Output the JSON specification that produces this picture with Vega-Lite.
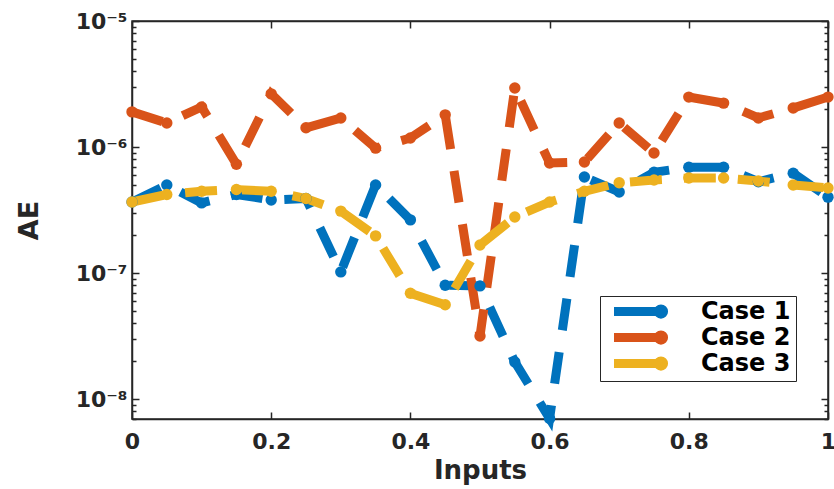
{
  "$schema": "https://vega.github.io/schema/vega-lite/v6.json",
  "width": 696,
  "height": 398,
  "autosize": {"type": "none"},
  "padding": {"left": 132, "top": 21, "right": 6, "bottom": 70},
  "background": "white",
  "config": {
    "view": {"stroke": "#262626", "strokeWidth": 1.5},
    "axis": {
      "grid": false,
      "domainColor": "#262626",
      "domainWidth": 1.5,
      "tickColor": "#262626",
      "tickWidth": 1.5,
      "labelFont": "DejaVu Sans",
      "labelFontWeight": "bold",
      "labelFontSize": 22,
      "labelColor": "#262626",
      "titleFont": "DejaVu Sans",
      "titleFontWeight": "bold",
      "titleColor": "#262626",
      "labelOverlap": false,
      "labelBound": false,
      "labelFlush": false
    }
  },
  "data": {
    "values": [
      {"x": 0, "AE": 3.66e-7, "series": "Case 1"},
      {"x": 0.05, "AE": 4.99e-7, "series": "Case 1"},
      {"x": 0.1, "AE": 3.6e-7, "series": "Case 1"},
      {"x": 0.15, "AE": 4.2e-7, "series": "Case 1"},
      {"x": 0.2, "AE": 3.8e-7, "series": "Case 1"},
      {"x": 0.25, "AE": 3.9e-7, "series": "Case 1"},
      {"x": 0.3, "AE": 1.02e-7, "series": "Case 1"},
      {"x": 0.35, "AE": 5.0e-7, "series": "Case 1"},
      {"x": 0.4, "AE": 2.64e-7, "series": "Case 1"},
      {"x": 0.45, "AE": 8.0e-8, "series": "Case 1"},
      {"x": 0.5, "AE": 7.9e-8, "series": "Case 1"},
      {"x": 0.55, "AE": 1.97e-8, "series": "Case 1"},
      {"x": 0.6, "AE": 7.0e-9, "series": "Case 1"},
      {"x": 0.65, "AE": 5.78e-7, "series": "Case 1"},
      {"x": 0.7, "AE": 4.4e-7, "series": "Case 1"},
      {"x": 0.75, "AE": 6.3e-7, "series": "Case 1"},
      {"x": 0.8, "AE": 6.9e-7, "series": "Case 1"},
      {"x": 0.85, "AE": 6.9e-7, "series": "Case 1"},
      {"x": 0.9, "AE": 5.3e-7, "series": "Case 1"},
      {"x": 0.95, "AE": 6.2e-7, "series": "Case 1"},
      {"x": 1, "AE": 4.0e-7, "series": "Case 1"},
      {"x": 0, "AE": 1.9e-6, "series": "Case 2"},
      {"x": 0.05, "AE": 1.55e-6, "series": "Case 2"},
      {"x": 0.1, "AE": 2.08e-6, "series": "Case 2"},
      {"x": 0.15, "AE": 7.3e-7, "series": "Case 2"},
      {"x": 0.2, "AE": 2.64e-6, "series": "Case 2"},
      {"x": 0.25, "AE": 1.42e-6, "series": "Case 2"},
      {"x": 0.3, "AE": 1.7e-6, "series": "Case 2"},
      {"x": 0.35, "AE": 9.8e-7, "series": "Case 2"},
      {"x": 0.4, "AE": 1.18e-6, "series": "Case 2"},
      {"x": 0.45, "AE": 1.8e-6, "series": "Case 2"},
      {"x": 0.5, "AE": 3.16e-8, "series": "Case 2"},
      {"x": 0.55, "AE": 2.94e-6, "series": "Case 2"},
      {"x": 0.6, "AE": 7.46e-7, "series": "Case 2"},
      {"x": 0.65, "AE": 7.6e-7, "series": "Case 2"},
      {"x": 0.7, "AE": 1.55e-6, "series": "Case 2"},
      {"x": 0.75, "AE": 8.95e-7, "series": "Case 2"},
      {"x": 0.8, "AE": 2.49e-6, "series": "Case 2"},
      {"x": 0.85, "AE": 2.23e-6, "series": "Case 2"},
      {"x": 0.9, "AE": 1.7e-6, "series": "Case 2"},
      {"x": 0.95, "AE": 2.04e-6, "series": "Case 2"},
      {"x": 1, "AE": 2.49e-6, "series": "Case 2"},
      {"x": 0, "AE": 3.66e-7, "series": "Case 3"},
      {"x": 0.05, "AE": 4.2e-7, "series": "Case 3"},
      {"x": 0.1, "AE": 4.45e-7, "series": "Case 3"},
      {"x": 0.15, "AE": 4.6e-7, "series": "Case 3"},
      {"x": 0.2, "AE": 4.45e-7, "series": "Case 3"},
      {"x": 0.25, "AE": 3.9e-7, "series": "Case 3"},
      {"x": 0.3, "AE": 3.1e-7, "series": "Case 3"},
      {"x": 0.35, "AE": 1.97e-7, "series": "Case 3"},
      {"x": 0.4, "AE": 6.9e-8, "series": "Case 3"},
      {"x": 0.45, "AE": 5.6e-8, "series": "Case 3"},
      {"x": 0.5, "AE": 1.67e-7, "series": "Case 3"},
      {"x": 0.55, "AE": 2.78e-7, "series": "Case 3"},
      {"x": 0.6, "AE": 3.66e-7, "series": "Case 3"},
      {"x": 0.65, "AE": 4.45e-7, "series": "Case 3"},
      {"x": 0.7, "AE": 5.2e-7, "series": "Case 3"},
      {"x": 0.75, "AE": 5.47e-7, "series": "Case 3"},
      {"x": 0.8, "AE": 5.67e-7, "series": "Case 3"},
      {"x": 0.85, "AE": 5.67e-7, "series": "Case 3"},
      {"x": 0.9, "AE": 5.37e-7, "series": "Case 3"},
      {"x": 0.95, "AE": 5.0e-7, "series": "Case 3"},
      {"x": 1, "AE": 4.73e-7, "series": "Case 3"}
    ]
  },
  "layer": [
    {
      "mark": {"type": "line", "strokeWidth": 9, "strokeDash": [32, 22], "clip": false},
      "encoding": {
        "x": {
          "field": "x", "type": "quantitative",
          "scale": {"domain": [0, 1], "nice": false, "zero": false},
          "axis": {"orient": "bottom", "title": "Inputs", "titleFontSize": 26, "values": [0, 0.2, 0.4, 0.6, 0.8, 1], "format": "~g", "tickSize": -7, "labelPadding": 19, "titlePadding": 5}
        },
        "y": {
          "field": "AE", "type": "quantitative",
          "scale": {"type": "log", "domain": [6.94e-9, 1e-5], "nice": false},
          "axis": {
            "orient": "left", "title": "AE", "titleFontSize": 27, "titlePadding": 32,
            "values": [7e-9, 8e-9, 9e-9, 1e-8, 2e-8, 3e-8, 4e-8, 5e-8, 6e-8, 7e-8, 8e-8, 9e-8, 1e-7, 2e-7, 3e-7, 4e-7, 5e-7, 6e-7, 7e-7, 8e-7, 9e-7, 1e-6, 2e-6, 3e-6, 4e-6, 5e-6, 6e-6, 7e-6, 8e-6, 9e-6, 1e-5],
            "tickSize": {"condition": {"test": "abs(log(datum.value)/LN10 - round(log(datum.value)/LN10)) < 0.001", "value": -7}, "value": -4},
            "labelPadding": 12,
            "labelExpr": "abs(log(datum.value)/LN10 - round(log(datum.value)/LN10)) > 0.001 ? '' : round(log(datum.value)/LN10) == -5 ? '10⁻⁵' : round(log(datum.value)/LN10) == -6 ? '10⁻⁶' : round(log(datum.value)/LN10) == -7 ? '10⁻⁷' : '10⁻⁸'"
          }
        },
        "color": {
          "field": "series", "type": "nominal",
          "scale": {"domain": ["Case 1", "Case 2", "Case 3"], "range": ["#0072BD", "#D95319", "#EDB120"]},
          "legend": {
            "orient": "none", "legendX": 468, "legendY": 275, "title": null,
            "symbolType": "M-0.57,0H3.9M3.65,0A0.25,0.25 0 1,1 4.15,0A0.25,0.25 0 1,1 3.65,0",
            "symbolSize": 441, "symbolStrokeWidth": 9,
            "labelFont": "DejaVu Sans", "labelFontWeight": "bold", "labelFontSize": 24, "labelColor": "#000000",
            "labelOffset": 66, "rowPadding": 1, "clipHeight": 21, "strokeColor": "#262626", "fillColor": "white", "padding": 5
          }
        }
      }
    },
    {
      "mark": {"type": "point", "filled": true, "size": 130, "opacity": 1, "clip": false},
      "encoding": {
        "x": {
          "field": "x", "type": "quantitative",
          "axis": {"orient": "top", "title": null, "labels": false, "values": [0, 0.2, 0.4, 0.6, 0.8, 1], "tickSize": -7}
        },
        "y": {
          "field": "AE", "type": "quantitative",
          "axis": {
            "orient": "right", "title": null, "labels": false,
            "values": [7e-9, 8e-9, 9e-9, 1e-8, 2e-8, 3e-8, 4e-8, 5e-8, 6e-8, 7e-8, 8e-8, 9e-8, 1e-7, 2e-7, 3e-7, 4e-7, 5e-7, 6e-7, 7e-7, 8e-7, 9e-7, 1e-6, 2e-6, 3e-6, 4e-6, 5e-6, 6e-6, 7e-6, 8e-6, 9e-6, 1e-5],
            "tickSize": {"condition": {"test": "abs(log(datum.value)/LN10 - round(log(datum.value)/LN10)) < 0.001", "value": -7}, "value": -4}
          }
        },
        "color": {"field": "series", "type": "nominal"}
      }
    }
  ],
  "resolve": {"axis": {"x": "independent", "y": "independent"}}
}
